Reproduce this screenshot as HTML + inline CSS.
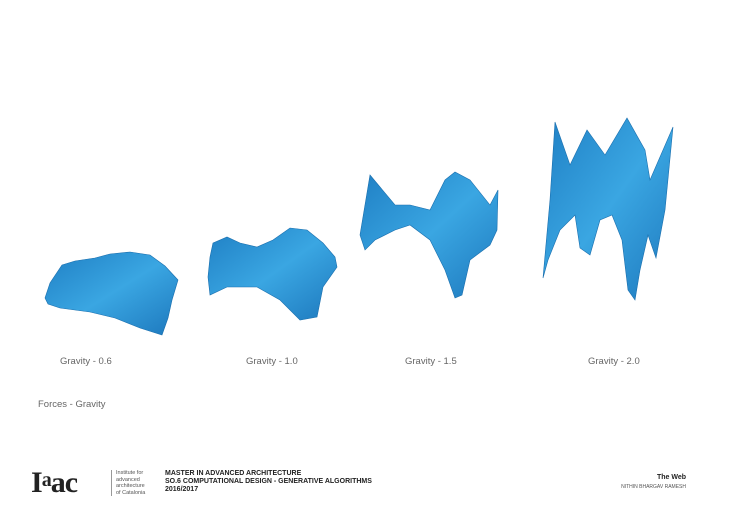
<!DOCTYPE html>
<html><head><style>
body{margin:0;width:730px;height:516px;background:#fff;overflow:hidden;position:relative;font-family:"Liberation Sans",sans-serif}
.l{position:absolute;font-size:9.5px;color:#666;white-space:nowrap}
.f{position:absolute;white-space:nowrap;color:#222}
</style></head><body>
<svg width="730" height="516" style="position:absolute;left:0;top:0">
<defs><linearGradient id="g" x1="0" y1="0" x2="1" y2="1"><stop offset="0" stop-color="#1f7fc4"/><stop offset=".5" stop-color="#3aa6e2"/><stop offset="1" stop-color="#1d78bd"/></linearGradient></defs>
<g fill="url(#g)" stroke="#1a6fae" stroke-width=".6">
<polygon points="62,265 75,261 95,258 110,254 130,252 150,255 165,266 178,280 172,300 168,318 162,335 140,328 115,318 90,312 60,308 48,304 45,298 50,283"/>
<polygon points="213,243 227,237 240,243 257,247 273,240 290,228 307,230 323,243 335,257 337,267 323,287 317,317 300,320 280,300 257,287 227,287 210,295 208,277 210,257"/>
<polygon points="370,175 395,205 410,205 430,210 445,180 455,172 470,180 490,205 498,190 497,230 490,245 470,260 462,295 455,298 445,270 430,240 410,225 395,230 375,240 365,250 360,235"/>
<polygon points="543,278 550,200 555,122 570,165 587,130 605,155 627,118 645,150 650,180 673,127 665,210 656,258 648,235 640,270 635,300 628,290 622,240 612,215 600,220 590,255 580,248 575,215 560,230 548,260"/>
</g>
</svg>
<div class="l" style="left:60px;top:356px">Gravity - 0.6</div>
<div class="l" style="left:246px;top:356px">Gravity - 1.0</div>
<div class="l" style="left:405px;top:356px">Gravity - 1.5</div>
<div class="l" style="left:588px;top:356px">Gravity - 2.0</div>
<div class="l" style="left:38px;top:399px">Forces - Gravity</div>
<div class="f" style="left:31px;top:466px;font:bold 30px 'Liberation Serif',serif;letter-spacing:-1px">I<span style="font-size:20px;vertical-align:6px">a</span>ac</div>
<div class="f" style="left:111px;top:470px;font-size:5.5px;line-height:6.5px;color:#555;border-left:1px solid #999;padding-left:4px">Institute for<br>advanced<br>architecture<br>of Catalonia</div>
<div class="f" style="left:165px;top:470px;font-size:7px;line-height:8px;font-weight:bold">MASTER IN ADVANCED ARCHITECTURE<br>SO.6 COMPUTATIONAL DESIGN - GENERATIVE ALGORITHMS<br>2016/2017</div>
<div class="f" style="right:44px;top:474px;font-size:7px;font-weight:bold;text-align:right">The Web</div>
<div class="f" style="right:44px;top:484px;font-size:5px;color:#555;text-align:right">NITHIN BHARGAV RAMESH</div>
</body></html>
